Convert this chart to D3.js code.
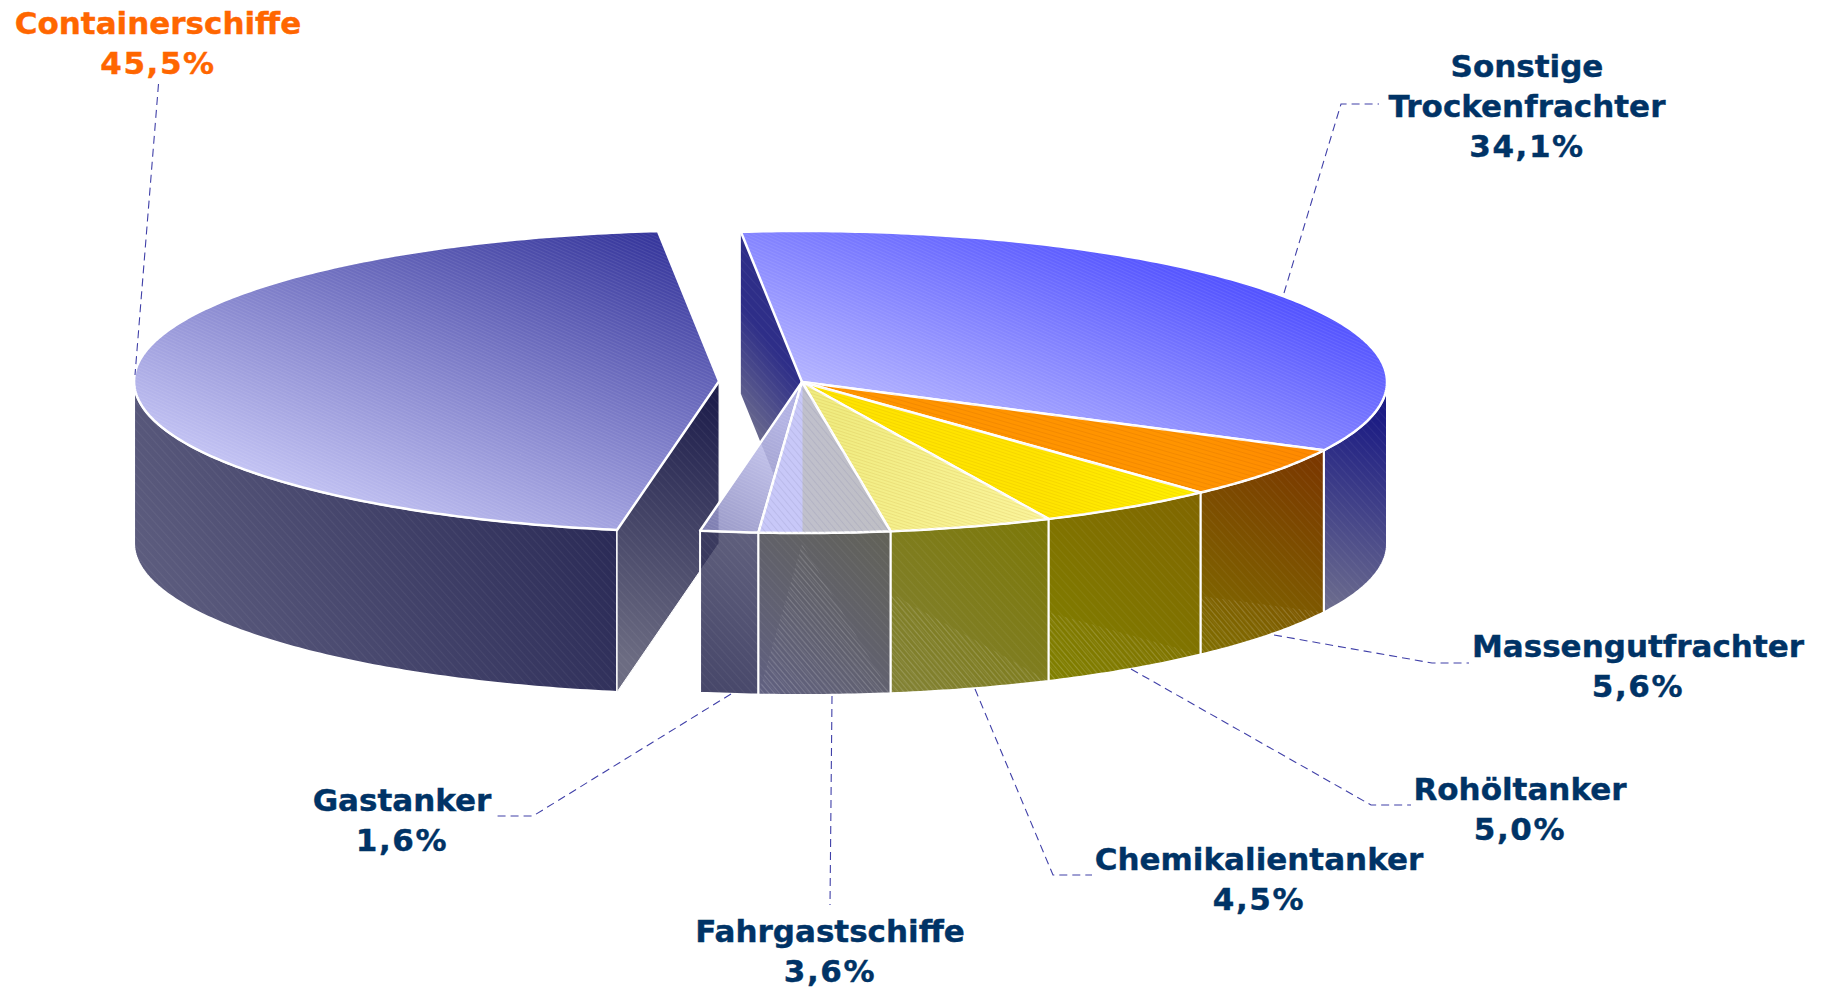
<!DOCTYPE html>
<html>
<head>
<meta charset="utf-8">
<script src="https://cdn.jsdelivr.net/npm/d3@7"></script>
<style>
  body { margin: 0; background: #fff; }
  text { font-family: "DejaVu Sans", Verdana, sans-serif; font-weight: bold; font-size: 31px; stroke-width: 0.4px; }
</style>
</head>
<body>
<div class="graph"></div>
<script>
const categories = ["Sonstige Trockenfrachter", "Massengutfrachter", "Rohöltanker", "Chemikalientanker", "Fahrgastschiffe", "Gastanker", "Containerschiffe"];
const shares = [34.1, 5.6, 5.0, 4.5, 3.6, 1.6, 45.5];
const exploded = [0, 0, 0, 0, 0, 0, 1];

const width = 1825;
const height = 989;
const cx = 802, cy = 382, rx = 585, ry = 151, depth = 162, explodeBy = 83;
const rad = Math.PI / 180;

const canvas = d3.select(".graph").append("svg")
  .attr("width", width)
  .attr("height", height)
  .style("display", "block");
const defs = canvas.append("defs");

// x1,y1,x2,y2, start colour, end colour
const topFill = [
  [980, 500, 1085, 215, "#c8c8ff", "#4e4eff"],
  [1203, 490, 1325, 440, "#ff9400", "#ff8800"],
  [1050, 530, 1203, 500, "#ffe400", "#fff000"],
  [850, 400, 1050, 530, "#f0ec80", "#fbf59c"],
  null,
  [702, 531, 780, 420, "#8686bc", "#c4c4f2"],
  [514, 598, 660, 231, "#cacaf8", "#33339a"]
];
const wallFill = [
  [1325, 620, 1387, 420, "#72728e", "#1c1c84"],
  [1203, 660, 1325, 450, "#807000", "#7a3500"],
  [1051, 680, 1203, 500, "#808000", "#806600"],
  [895, 700, 1051, 530, "#828236", "#7c7808"],
  [760, 690, 895, 540, "#606080", "#626258"],
  [700, 690, 760, 540, "#1e1e48", "#3c3c60"],
  [200, 700, 620, 530, "#5c5c7e", "#2a2a56"]
];
const hatchTop = ["hatchCool", "hatchOrange", "hatchWarm", "hatchWarm", "hatchGrey", "hatchCool", "hatchCool"];
const showFloor = [false, true, true, true, true, false, false];

function gradient(id, g) {
  const lg = defs.append("linearGradient").attr("id", id)
    .attr("gradientUnits", "userSpaceOnUse")
    .attr("x1", g[0]).attr("y1", g[1]).attr("x2", g[2]).attr("y2", g[3]);
  lg.append("stop").attr("offset", 0).attr("stop-color", g[4]);
  lg.append("stop").attr("offset", 1).attr("stop-color", g[5]);
}
function hatch(id, size, angle, color, op, sw) {
  const p = defs.append("pattern").attr("id", id)
    .attr("patternUnits", "userSpaceOnUse")
    .attr("width", size).attr("height", size)
    .attr("patternTransform", `rotate(${angle})`);
  p.append("line").attr("x1", 0).attr("y1", 0).attr("x2", size).attr("y2", 0)
    .attr("stroke", color).attr("stroke-opacity", op).attr("stroke-width", sw);
}
hatch("hatchCool", 3, 24, "#fff", 0.16, 1);
hatch("hatchWarm", 3, 18, "#a06000", 0.22, 1);
hatch("hatchOrange", 4, 16, "#b05000", 0.3, 1);
hatch("hatchGrey", 5, 50, "#7070a0", 0.3, 1);
hatch("hatchWall", 6, 48, "#fff", 0.1, 1);
hatch("hatchLow", 4, 50, "#fff", 0.3, 1);

topFill.forEach((g, i) => { if (g) gradient("top" + i, g); });
wallFill.forEach((g, i) => gradient("wall" + i, g));
gradient("cutBack", [742, 430, 802, 385, "#70708e", "#2e2e88"]);
gradient("cutFront", [625, 660, 715, 400, "#6c6c82", "#1e1e4c"]);

// Fahrgast top has a hard seam under the pie centre
const seam = defs.append("linearGradient").attr("id", "top4")
  .attr("gradientUnits", "userSpaceOnUse")
  .attr("x1", 760).attr("y1", 0).attr("x2", 895).attr("y2", 0);
[[0, "#c8c8f8"], [0.31, "#c8c8f8"], [0.32, "#c0c0cc"], [1, "#bfbfc4"]].forEach(s =>
  seam.append("stop").attr("offset", s[0]).attr("stop-color", s[1]));

const slices = d3.pie().sort(null).value(d => d)
  .startAngle(-6 * rad).endAngle((360 - 6) * rad)(shares);

const line = d3.line();
const g = canvas.append("g");

function offset(d, i) {
  const mid = (d.startAngle + d.endAngle) / 2;
  const k = exploded[i] * explodeBy;
  return [k * Math.sin(mid), -k * Math.cos(mid) * ry / rx];
}
function rimPoint(d, i, a, z) {
  const o = offset(d, i);
  return [cx + o[0] + rx * Math.sin(a), cy + o[1] - ry * Math.cos(a) + z];
}
function arcPoints(d, i, a0, a1, z) {
  const n = Math.max(2, Math.ceil((a1 - a0) / (0.75 * rad)));
  return d3.range(n + 1).map(k => rimPoint(d, i, a0 + (a1 - a0) * k / n, z));
}
function centre(d, i, z) {
  const o = offset(d, i);
  return [cx + o[0], cy + o[1] + z];
}
function wedgePath(d, i, z) {
  return line([centre(d, i, z), ...arcPoints(d, i, d.startAngle, d.endAngle, z)]) + "Z";
}
function wallPath(d, i) {
  const a0 = Math.max(d.startAngle, 90 * rad);
  const a1 = Math.min(d.endAngle, 270 * rad);
  return line([...arcPoints(d, i, a0, a1, 0), ...arcPoints(d, i, a0, a1, depth).reverse()]) + "Z";
}
function cutPath(d, i, a) {
  return line([centre(d, i, 0), rimPoint(d, i, a, 0), rimPoint(d, i, a, depth), centre(d, i, depth)]) + "Z";
}
function drawWall(d, i, op) {
  g.append("path").attr("d", wallPath(d, i))
    .attr("fill", `url(#wall${i})`).attr("fill-opacity", op);
  g.append("path").attr("d", wallPath(d, i)).attr("fill", "url(#hatchWall)");
  if (showFloor[i]) {
    defs.append("clipPath").attr("id", "clip" + i).append("path").attr("d", wallPath(d, i));
    g.append("path").attr("d", wedgePath(d, i, depth))
      .attr("clip-path", `url(#clip${i})`).attr("fill", "url(#hatchLow)");
  }
  g.append("path").attr("d", wallPath(d, i))
    .attr("fill", "none").attr("stroke", "#fff").attr("stroke-width", 2);
}
function drawTop(d, i, op) {
  g.append("path").attr("d", wedgePath(d, i, 0))
    .attr("fill", `url(#top${i})`).attr("fill-opacity", op)
    .attr("stroke", "#fff").attr("stroke-width", 2.5).attr("stroke-linejoin", "round");
  g.append("path").attr("d", wedgePath(d, i, 0)).attr("fill", `url(#${hatchTop[i]})`);
}

const container = slices[6], gas = slices[5];

// back to front: wall behind the gap, the pulled out slice, then the ring
g.append("path").attr("d", cutPath(slices[0], 0, slices[0].startAngle)).attr("fill", "url(#cutBack)");
g.append("path").attr("d", cutPath(slices[0], 0, slices[0].startAngle)).attr("fill", "url(#hatchWall)");

drawWall(container, 6, 1);
g.append("path").attr("d", cutPath(container, 6, container.startAngle)).attr("fill", "url(#cutFront)")
  .attr("stroke", "#fff").attr("stroke-width", 1);
g.append("path").attr("d", cutPath(container, 6, container.startAngle)).attr("fill", "url(#hatchWall)");
drawTop(container, 6, 1);

drawWall(gas, 5, 0.82);
drawTop(gas, 5, 0.85);
[0, 1, 2, 3, 4].forEach(i => drawWall(slices[i], i, 1));
[0, 1, 2, 3, 4].forEach(i => drawTop(slices[i], i, 1));

// leader lines
const leaders = [
  [[1284, 293], [1341, 104], [1379, 104]],
  [[1274, 635], [1432, 663], [1469, 663]],
  [[1131, 669], [1371, 805], [1411, 805]],
  [[975, 689], [1053, 875], [1092, 875]],
  [[832, 696], [830, 905]],
  [[731, 694], [533, 816], [495, 816]],
  [[158.5, 84], [135, 375]]
];
canvas.append("g").selectAll("path").data(leaders).join("path")
  .attr("d", d => line(d))
  .attr("fill", "none")
  .attr("stroke", "#4040a8")
  .attr("stroke-width", 1.1)
  .attr("stroke-dasharray", "8,5");

// labels: first line y, centre x
const labelPos = [[1527, 66], [1638, 646], [1520, 789], [1259, 859], [830, 931], [402, 800], [158, 23]];
const labelLines = categories.map((c, i) => {
  const parts = i === 0 ? c.split(" ") : [c];
  return [...parts, shares[i].toFixed(1).replace(".", ",") + "%"];
});
labelLines.forEach((rows, i) => {
  const colour = i === 6 ? "#ff6600" : "#003366";
  canvas.append("text")
    .attr("text-anchor", "middle")
    .attr("fill", colour)
    .attr("stroke", colour)
    .selectAll("tspan").data(rows).join("tspan")
    .attr("x", labelPos[i][0])
    .attr("y", (d, k) => labelPos[i][1] + k * 40)
    .attr("dominant-baseline", "central")
    .attr("letter-spacing", (d, k) => k === rows.length - 1 ? 1.6 : null)
    .text(d => d);
});
</script>
</body>
</html>
